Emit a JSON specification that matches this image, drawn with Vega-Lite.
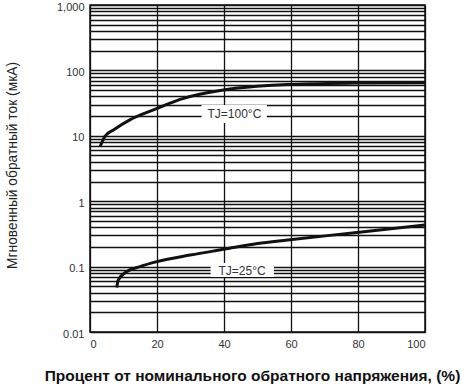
{
  "$schema": "https://vega.github.io/schema/vega-lite/v6.json",
  "width": 335,
  "height": 327,
  "autosize": "none",
  "padding": {"left": 90, "top": 5, "right": 50, "bottom": 55},
  "config": {
    "font": "Liberation Sans",
    "view": {"stroke": "#111", "strokeWidth": 1.5}
  },
  "datasets": {
    "curves": [
      {"series": "100", "pct": 3.0, "ua": 6.8},
      {"series": "100", "pct": 4.5, "ua": 9.9},
      {"series": "100", "pct": 7.0, "ua": 12.3},
      {"series": "100", "pct": 11.9, "ua": 17.5},
      {"series": "100", "pct": 19.9, "ua": 26},
      {"series": "100", "pct": 26.9, "ua": 36},
      {"series": "100", "pct": 39.8, "ua": 50},
      {"series": "100", "pct": 49.8, "ua": 57},
      {"series": "100", "pct": 59, "ua": 61},
      {"series": "100", "pct": 79, "ua": 64},
      {"series": "100", "pct": 100, "ua": 65},
      {"series": "25", "pct": 8.0, "ua": 0.048},
      {"series": "25", "pct": 8.4, "ua": 0.062},
      {"series": "25", "pct": 11, "ua": 0.084},
      {"series": "25", "pct": 14.9, "ua": 0.1},
      {"series": "25", "pct": 20, "ua": 0.119},
      {"series": "25", "pct": 29.9, "ua": 0.15},
      {"series": "25", "pct": 40, "ua": 0.184},
      {"series": "25", "pct": 50, "ua": 0.225},
      {"series": "25", "pct": 59, "ua": 0.255},
      {"series": "25", "pct": 79, "ua": 0.33},
      {"series": "25", "pct": 100, "ua": 0.433}
    ],
    "labels": [
      {"text": "TJ=100°C", "x0": 33.3, "x1": 52.8, "y0": 15.7, "y1": 29.6, "xc": 43.1, "yc": 21.5},
      {"text": "TJ=25°C", "x0": 36, "x1": 54.9, "y0": 0.0693, "y1": 0.1135, "xc": 45.4, "yc": 0.087}
    ]
  },
  "layer": [
    {
      "data": {"name": "curves"},
      "mark": {"type": "line", "interpolate": "monotone", "strokeWidth": 3, "color": "#111", "clip": true},
      "encoding": {
        "x": {
          "field": "pct", "type": "quantitative",
          "scale": {"domain": [0, 100], "nice": false},
          "axis": {
            "values": [0, 20, 40, 60, 80, 100],
            "grid": true, "gridColor": "#111", "gridWidth": 1.3, "gridOpacity": 1,
            "ticks": false, "domain": false,
            "labelFont": "Liberation Sans", "labelFontSize": 11, "labelColor": "#333", "labelPadding": 6,
            "title": "Процент от номинального обратного напряжения, (%)",
            "titleFont": "Liberation Sans", "titleFontSize": 15.5, "titleFontWeight": "bold", "titleColor": "#111",
            "titleX": 162, "titleY": 43, "titleAlign": "center", "titleBaseline": "middle"
          }
        },
        "y": {
          "field": "ua", "type": "quantitative",
          "scale": {"type": "log", "domain": [0.01, 1000], "nice": false},
          "axis": {
            "values": [0.01,0.02,0.03,0.04,0.05,0.06,0.07,0.08,0.09,0.1,0.2,0.3,0.4,0.5,0.6,0.7,0.8,0.9,1,2,3,4,5,6,7,8,9,10,20,30,40,50,60,70,80,90,100,200,300,400,500,600,700,800,900,1000],
            "format": ",",
            "labelExpr": "abs(log(datum.value)/LN10 - round(log(datum.value)/LN10)) < 0.000001 ? datum.label : ''",
            "labelOverlap": false, "labelBound": false, "labelFlush": false,
            "grid": true, "gridColor": "#111", "gridWidth": 1.3, "gridOpacity": 1,
            "ticks": false, "domain": false,
            "labelFont": "Liberation Sans", "labelFontSize": 11, "labelColor": "#333", "labelPadding": 6, "labelOffset": 2,
            "title": "Мгновенный обратный ток (мкА)",
            "titleFont": "Liberation Sans", "titleFontSize": 13.8, "titleFontWeight": "normal", "titleColor": "#222",
            "titleX": -78, "titleY": 160, "titleAngle": -90, "titleAlign": "center", "titleBaseline": "middle"
          }
        },
        "detail": {"field": "series"}
      }
    },
    {
      "data": {"name": "labels"},
      "mark": {"type": "rect", "fill": "white", "stroke": null},
      "encoding": {
        "x": {"field": "x0", "type": "quantitative"},
        "x2": {"field": "x1"},
        "y": {"field": "y0", "type": "quantitative"},
        "y2": {"field": "y1"}
      }
    },
    {
      "data": {"name": "labels"},
      "mark": {"type": "text", "font": "Liberation Sans", "fontSize": 12, "color": "#333", "align": "center", "baseline": "middle"},
      "encoding": {
        "x": {"field": "xc", "type": "quantitative"},
        "y": {"field": "yc", "type": "quantitative"},
        "text": {"field": "text"}
      }
    }
  ]
}
